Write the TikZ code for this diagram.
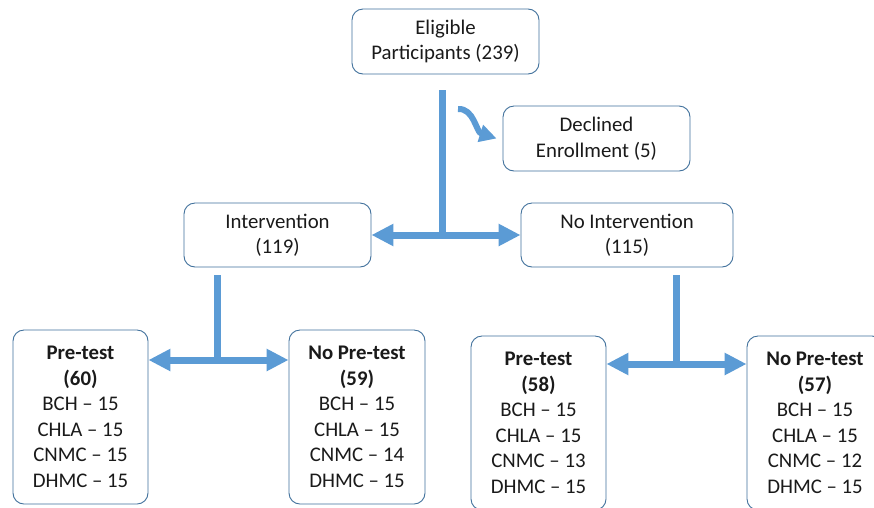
\documentclass[tikz,border=0pt]{standalone}
\usepackage{fontspec}
\setmainfont{Carlito}
\usetikzlibrary{arrows.meta}
\definecolor{flowblue}{HTML}{5B9BD5}
\definecolor{edgeblue}{HTML}{41719C}
\definecolor{inkgray}{HTML}{1A1A1A}
\tikzstyle{bx}=[draw=edgeblue,line width=0.9pt,rounded corners=11pt,align=center,inner sep=0pt,text=inkgray,font=\fontsize{20.8}{25.5}\selectfont]
\tikzstyle{flow}=[draw=flowblue,line width=7pt]
\tikzstyle{twoway}=[{Triangle[length=22pt,width=21pt]}-{Triangle[length=22pt,width=21pt]}]

\begin{document}
\begin{tikzpicture}[x=1pt,y=-1pt]
\useasboundingbox (0,0) rectangle (874,507);
\clip (0,0) rectangle (874,507);
\fill[white] (0,0) rectangle (874,507);
% boxes
\node[bx,minimum width=187pt,minimum height=65pt] (elig) at (445.5,41.5) {Eligible\\Participants (239)};
\node[bx,minimum width=187pt,minimum height=65pt] (dec) at (596.5,138.5) {Declined\\Enrollment (5)};
\node[bx,minimum width=187pt,minimum height=64pt] (int) at (277.5,235) {Intervention\\(119)};
\node[bx,minimum width=212pt,minimum height=64pt] (noint) at (627,235) {No Intervention\\(115)};
\node[bx,minimum width=135pt,minimum height=174pt] (pre1) at (80.5,417) {\textbf{Pre-test}\\\textbf{(60)}\\BCH – 15\\CHLA – 15\\CNMC – 15\\DHMC – 15};
\node[bx,minimum width=136pt,minimum height=174pt] (nopre1) at (357,417) {\textbf{No Pre-test}\\\textbf{(59)}\\BCH – 15\\CHLA – 15\\CNMC – 14\\DHMC – 15};
\node[bx,minimum width=135pt,minimum height=174pt] (pre2) at (538.5,423) {\textbf{Pre-test}\\\textbf{(58)}\\BCH – 15\\CHLA – 15\\CNMC – 13\\DHMC – 15};
\node[bx,minimum width=136pt,minimum height=174pt] (nopre2) at (815,423) {\textbf{No Pre-test}\\\textbf{(57)}\\BCH – 15\\CHLA – 15\\CNMC – 12\\DHMC – 15};
% connectors
\coordinate (e0) at (442,90);
\coordinate (e1) at (442,238.5);
\coordinate (d0) at (458,109);
\draw[flow] (e0) -- (e1);
\draw[flow,twoway] (int.east) -- (noint.west);
\draw[flow,line width=6pt,-{Triangle[length=17pt,width=17pt]}] (d0) .. controls (474,108) and (476,132) .. ([xshift=-6pt]dec.west);
\coordinate (i0) at (217,275);
\coordinate (i1) at (217,363.5);
\coordinate (i2) at (217,360);
\draw[flow] (i0) -- (i1);
\draw[flow,twoway] (pre1.east |- i2) -- (nopre1.west |- i2);
\coordinate (n0) at (676,275);
\coordinate (n1) at (676,367.5);
\coordinate (n2) at (676,364);
\draw[flow] (n0) -- (n1);
\draw[flow,twoway] (pre2.east |- n2) -- (nopre2.west |- n2);
\end{tikzpicture}
\end{document}
